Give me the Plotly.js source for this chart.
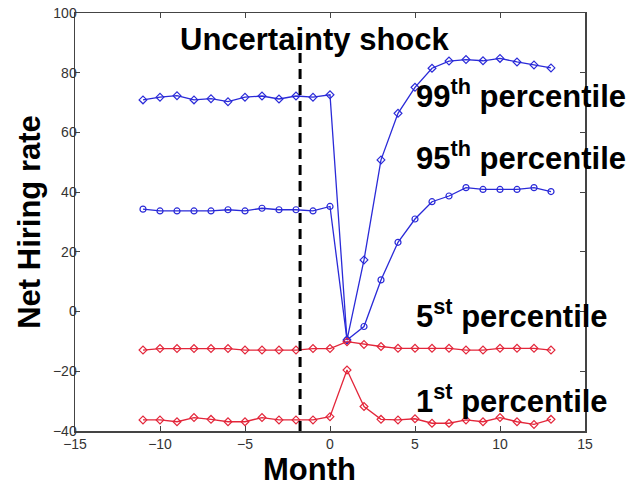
<!DOCTYPE html>
<html>
<head>
<meta charset="utf-8">
<script src="https://cdn.plot.ly/plotly-3.0.1.min.js"></script>
<style>html,body{margin:0;padding:0;background:#fff;}#chart{width:632px;height:485px;}</style>
</head>
<body>
<div id="chart"></div>
<script>
const monthsPre = [-11,-10,-9,-8,-7,-6,-5,-4,-3,-2,-1,0];
const monthsPost = [1,2,3,4,5,6,7,8,9,10,11,12,13];
const months = monthsPre.concat(monthsPost);

const p99 = [70.9,71.8,72.3,70.9,71.3,70.3,71.8,72.2,71.2,72.2,71.8,72.6,
             -9.5,17.3,50.8,66.4,75.1,81.5,83.9,84.4,84.0,84.8,83.6,82.6,81.6];
const p95 = [34.3,33.7,33.7,33.7,33.7,34.1,33.7,34.6,34.1,34.1,33.7,35.2,
             -9.5,-5.0,10.6,23.2,31.0,36.8,38.7,41.5,40.9,40.9,40.9,41.5,40.2];
const p5  = [-12.9,-12.4,-12.4,-12.4,-12.4,-12.4,-12.9,-12.9,-12.9,-12.9,-12.4,-12.4,
             -10.1,-11.0,-11.7,-12.3,-12.3,-12.3,-12.3,-12.9,-12.9,-12.3,-12.3,-12.3,-12.9];
const p1  = [-36.3,-36.3,-36.9,-35.5,-36.1,-36.9,-36.9,-35.5,-36.3,-36.3,-36.3,-35.2,
             -19.6,-31.8,-36.1,-36.3,-35.9,-37.4,-37.4,-36.3,-36.9,-35.5,-36.9,-37.8,-36.1];

const shockMonth = -1.76;
const xTicks = [-15,-10,-5,0,5,10,15];
const yTicks = [-40,-20,0,20,40,60,80,100];

const blue = '#2a2ad8';
const red = '#e3263a';

function series(y, color, symbol, name){
  return {x: months, y: y, mode: 'lines+markers', name: name,
    line: {color: color, width: 1.3},
    marker: {symbol: symbol, size: 6, color: color, line: {color: color, width: 1.2}}};
}

const data = [
  series(p99, blue, 'diamond-open', '99th'),
  series(p95, blue, 'circle-open', '95th'),
  series(p5, red, 'diamond-open', '5th'),
  series(p1, red, 'diamond-open', '1st')
];

const big = {family: 'Liberation Sans, Arial, sans-serif', size: 31, color: '#000', weight: 'bold'};

const layout = {
  width: 632, height: 485,
  margin: {l: 75, r: 47, t: 13, b: 54},
  paper_bgcolor: '#fff', plot_bgcolor: '#fff',
  showlegend: false,
  font: {family: 'Liberation Sans, Arial, sans-serif', size: 14, color: '#333'},
  xaxis: {range: [-15, 15], tickvals: xTicks, ticktext: xTicks.map(v => v < 0 ? '\u2212' + (-v) : String(v)),
    ticks: 'inside', ticklen: 5, tickcolor: '#444', mirror: 'ticks', showline: true,
    linecolor: '#444', linewidth: 1.5, showgrid: false, zeroline: false},
  yaxis: {range: [-40, 100], tickvals: yTicks, ticktext: yTicks.map(v => v < 0 ? '\u2212' + (-v) : String(v)),
    ticks: 'inside', ticklen: 5, tickcolor: '#444', mirror: 'ticks', showline: true,
    linecolor: '#444', linewidth: 1.5, showgrid: false, zeroline: false, ticklabelstandoff: -6,
    title: {text: '<b>Net Hiring rate</b>', font: big, standoff: 3}},
  shapes: [{type: 'line', xref: 'x', yref: 'y', x0: shockMonth, x1: shockMonth, y0: -40, y1: 89,
    line: {color: '#000', width: 3, dash: '10px,6px'}}],
  annotations: [
    {text: '<b>Uncertainty shock</b>', xref: 'paper', yref: 'paper', x: 0.471, y: 0.937, xanchor: 'center', yanchor: 'middle', showarrow: false, font: big},
    {text: '<b>99<sup>th</sup> percentile</b>', xref: 'paper', yref: 'paper', x: 0.665, y: 0.807, xanchor: 'left', yanchor: 'middle', showarrow: false, font: big},
    {text: '<b>95<sup>th</sup> percentile</b>', xref: 'paper', yref: 'paper', x: 0.665, y: 0.658, xanchor: 'left', yanchor: 'middle', showarrow: false, font: big},
    {text: '<b>5<sup>st</sup> percentile</b>', xref: 'paper', yref: 'paper', x: 0.665, y: 0.279, xanchor: 'left', yanchor: 'middle', showarrow: false, font: big},
    {text: '<b>1<sup>st</sup> percentile</b>', xref: 'paper', yref: 'paper', x: 0.665, y: 0.076, xanchor: 'left', yanchor: 'middle', showarrow: false, font: big},
    {text: '<b>Month</b>', xref: 'paper', yref: 'paper', x: 0.459, y: -0.091, xanchor: 'center', yanchor: 'middle', height: 26, valign: 'middle', showarrow: false, font: big}
  ]
};

Plotly.newPlot('chart', data, layout, {displayModeBar: false, staticPlot: true});
</script>
</body>
</html>
